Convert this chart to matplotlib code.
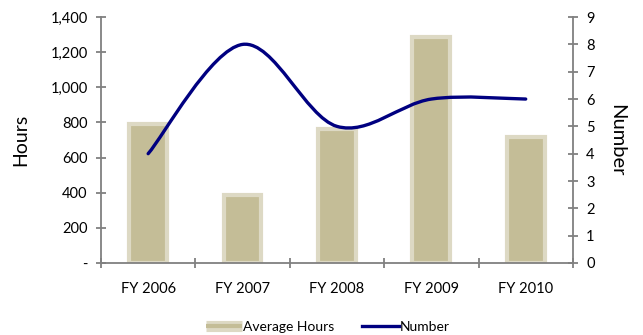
import matplotlib.pyplot as plt
from matplotlib.path import Path
from matplotlib.patches import PathPatch
from matplotlib.lines import Line2D
from matplotlib.ticker import FuncFormatter, MultipleLocator

plt.rcParams['font.family'] = ['Lato', 'DejaVu Sans']

# fiscal year data
years = ['FY 2006', 'FY 2007', 'FY 2008', 'FY 2009', 'FY 2010']
avg_hours = [790, 385, 765, 1285, 720]
number = [4, 8, 5, 6, 6]

bar_face = '#C4BD97'
bar_edge = '#DDD9C4'
line_col = '#000080'
axis_col = '#808080'

fig = plt.figure(figsize=(6.43, 3.35), dpi=100)
ax = fig.add_axes([0.157, 0.215, 0.734, 0.734])
x = list(range(len(years)))

bars = ax.bar(x, avg_hours, width=0.4, color=bar_face, edgecolor=bar_edge,
              linewidth=3, zorder=2)
ax.set_xlim(-0.5, len(years) - 0.5)
ax.set_ylim(0, 1400)
ax.yaxis.set_major_locator(MultipleLocator(200))
ax.yaxis.set_major_formatter(FuncFormatter(lambda v, p: '-' if v == 0 else f'{v:,.0f}'))
ax.set_ylabel('Hours', fontsize=14, labelpad=15)

# category labels between boundary ticks
ax.set_xticks([i - 0.5 for i in range(len(years) + 1)])
ax.set_xticklabels([])
ax.set_xticks(x, minor=True)
ax.set_xticklabels(years, minor=True, fontsize=10.5)
ax.tick_params(axis='x', which='minor', length=0, pad=14)

ax2 = ax.twinx()
ax2.set_ylim(0, 9)
ax2.yaxis.set_major_locator(MultipleLocator(1))
ax2.set_ylabel('Number', fontsize=14.5, rotation=270, labelpad=22)

# smoothed line through the points (cubic bezier segments)
pts = list(zip(x, number))
verts = [pts[0]]
codes = [Path.MOVETO]
for i in range(len(pts) - 1):
    p0 = pts[max(i - 1, 0)]
    p1 = pts[i]
    p2 = pts[i + 1]
    p3 = pts[min(i + 2, len(pts) - 1)]
    c1 = (p1[0] + (p2[0] - p0[0]) / 6, p1[1] + (p2[1] - p0[1]) / 6)
    c2 = (p2[0] - (p3[0] - p1[0]) / 6, p2[1] - (p3[1] - p1[1]) / 6)
    verts += [c1, c2, p2]
    codes += [Path.CURVE4] * 3
ax2.add_patch(PathPatch(Path(verts, codes), facecolor='none', edgecolor=line_col,
                        linewidth=2.4, capstyle='round', zorder=3))

for a in (ax, ax2):
    for s in a.spines.values():
        s.set_visible(False)
    a.tick_params(axis='both', which='major', direction='inout', length=7,
                  color=axis_col, width=1.3, labelsize=10.5)
ax.spines['left'].set_visible(True)
ax.spines['bottom'].set_visible(True)
ax2.spines['right'].set_visible(True)
for s in (ax.spines['left'], ax.spines['bottom'], ax2.spines['right']):
    s.set_color(axis_col)
    s.set_linewidth(1.3)
ax.tick_params(axis='y', pad=6)
ax2.tick_params(axis='y', pad=6)

handles = [
    (Line2D([], [], color=bar_edge, linewidth=8, solid_capstyle='butt'),
     Line2D([], [], color=bar_face, linewidth=3, solid_capstyle='butt')),
    Line2D([], [], color=line_col, linewidth=2.4),
]
fig.legend(handles, ['Average Hours', 'Number'], loc='lower center',
           bbox_to_anchor=(0.51, -0.03), ncol=2, frameon=False, fontsize=10,
           handlelength=2.6, handletextpad=0.1, columnspacing=2.0)

fig.savefig('out.png', dpi=100)
